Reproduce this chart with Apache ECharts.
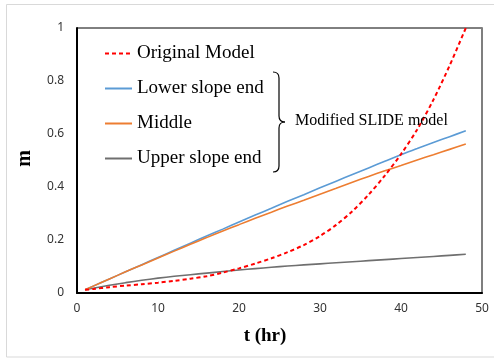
<!DOCTYPE html>
<html>
<head>
<meta charset="utf-8">
<script src="https://cdn.jsdelivr.net/npm/echarts@6/dist/echarts.min.js"></script>
<style>
html,body{margin:0;padding:0;background:#fff;}
#c{width:494px;height:359px;}
</style>
</head>
<body>
<div id="c"></div>
<script>
// ---- data ----
var timeHr = [1,2,4,6,8,10,12,14,16,18,20,22,24,26,28,30,32,34,36,38,40,42,44,46,48];
var originalModel = [0.012,0.015,0.022,0.028,0.033,0.039,0.046,0.054,0.063,0.077,0.093,0.111,0.131,0.154,0.181,0.215,0.257,0.309,0.371,0.443,0.524,0.617,0.729,0.858,1.0];
var lowerSlopeEnd = [0.012,0.026,0.053,0.080,0.107,0.134,0.161,0.188,0.215,0.241,0.268,0.294,0.320,0.346,0.371,0.397,0.422,0.447,0.472,0.497,0.522,0.545,0.568,0.590,0.612];
var middle = [0.012,0.026,0.053,0.080,0.106,0.132,0.158,0.184,0.209,0.234,0.258,0.282,0.305,0.328,0.350,0.373,0.395,0.418,0.440,0.461,0.481,0.502,0.522,0.542,0.562];
var upperSlopeEnd = [0.012,0.018,0.029,0.039,0.048,0.056,0.063,0.069,0.075,0.081,0.087,0.092,0.097,0.102,0.106,0.110,0.114,0.118,0.122,0.126,0.130,0.134,0.138,0.142,0.146];
var seriesNames = ['Original Model','Lower slope end','Middle','Upper slope end'];
var xTicks = {min:0, max:50, interval:10};
var yTicks = {min:0, max:1, interval:0.2};
var annotationText = 'Modified SLIDE model';

function pairs(vals){ return timeHr.map(function(t,i){ return [t, vals[i]]; }); }

var chart = echarts.init(document.getElementById('c'), null, {renderer:'canvas'});
var serif = '"Liberation Serif","Times New Roman",serif';
var sans = '"Noto Sans","Open Sans",sans-serif';
var lineW = 1.6;
var braceStyle = {stroke:'#000', lineWidth:1.2, fill:null};

chart.setOption({
  animation:false,
  backgroundColor:'#fff',
  grid:{left:77, right:12, top:28, bottom:66, show:true, borderColor:'#000', borderWidth:1},
  legend:{
    orient:'vertical', left:104, top:44, padding:0, itemWidth:27, itemHeight:14, itemGap:16,
    itemStyle:{opacity:0, borderWidth:0},
    textStyle:{fontFamily:serif, fontSize:19, color:'#000', lineHeight:19},
    data:seriesNames
  },
  xAxis:{
    type:'value', min:xTicks.min, max:xTicks.max, interval:xTicks.interval,
    name:'t (hr)', nameLocation:'middle', nameGap:34,
    nameTextStyle:{fontFamily:serif, fontSize:19, fontWeight:'bold', color:'#000', padding:[0,29,0,0]},
    axisLine:{show:true, lineStyle:{color:'#000', width:2}},
    axisTick:{show:false},
    splitLine:{show:false},
    axisLabel:{fontFamily:sans, fontSize:12, color:'#333', margin:10}
  },
  yAxis:[{
    type:'value', min:yTicks.min, max:yTicks.max, interval:yTicks.interval,
    name:'m', nameLocation:'middle', nameGap:42,
    nameTextStyle:{fontFamily:serif, fontSize:20, fontWeight:'bold', color:'#000', padding:[0,0,0,4]},
    axisLine:{show:true, lineStyle:{color:'#000', width:2}},
    axisTick:{show:false},
    splitLine:{show:false},
    axisLabel:{fontFamily:sans, fontSize:12, color:'#333', margin:13}
  },{
    type:'value', position:'right', min:yTicks.min, max:yTicks.max, interval:yTicks.interval,
    axisLine:{show:true, lineStyle:{color:'#7f7f7f', width:2}},
    axisTick:{show:false}, axisLabel:{show:false}, splitLine:{show:false}
  }],
  series:[
    {name:seriesNames[0], type:'line', data:pairs(originalModel), symbol:'none', smooth:0.3, z:5,
      lineStyle:{color:'#ff0000', width:2, type:[4,3]}, itemStyle:{color:'#ff0000'}},
    {name:seriesNames[1], type:'line', data:pairs(lowerSlopeEnd), symbol:'none', smooth:0.3, z:3,
      lineStyle:{color:'#5b9bd5', width:lineW}, itemStyle:{color:'#5b9bd5'}},
    {name:seriesNames[2], type:'line', data:pairs(middle), symbol:'none', smooth:0.3, z:4,
      lineStyle:{color:'#ed7d31', width:lineW}, itemStyle:{color:'#ed7d31'}},
    {name:seriesNames[3], type:'line', data:pairs(upperSlopeEnd), symbol:'none', smooth:0.3, z:3,
      lineStyle:{color:'#6f6f6f', width:lineW}, itemStyle:{color:'#6f6f6f'}}
  ],
  graphic:[
    {type:'rect', shape:{x:6.5, y:4.5, width:520, height:352.5}, style:{fill:null, stroke:'#d9d9d9', lineWidth:1}, silent:true, z:-1},
    {type:'bezierCurve', shape:{x1:273, y1:72, cpx1:279, cpy1:72, x2:279, y2:78}, style:braceStyle, z:10},
    {type:'line', shape:{x1:279, y1:78, x2:279, y2:116}, style:braceStyle, z:10},
    {type:'bezierCurve', shape:{x1:279, y1:116, cpx1:279, cpy1:122, x2:285, y2:122}, style:braceStyle, z:10},
    {type:'bezierCurve', shape:{x1:285, y1:122, cpx1:279, cpy1:122, x2:279, y2:128}, style:braceStyle, z:10},
    {type:'line', shape:{x1:279, y1:128, x2:279, y2:166}, style:braceStyle, z:10},
    {type:'bezierCurve', shape:{x1:279, y1:166, cpx1:279, cpy1:172, x2:273, y2:172}, style:braceStyle, z:10},
    {type:'text', left:295, top:113, style:{text:annotationText, font:'16px "Liberation Serif", "Times New Roman", serif', fill:'#000'}, z:10}
  ]
});
</script>
</body>
</html>
